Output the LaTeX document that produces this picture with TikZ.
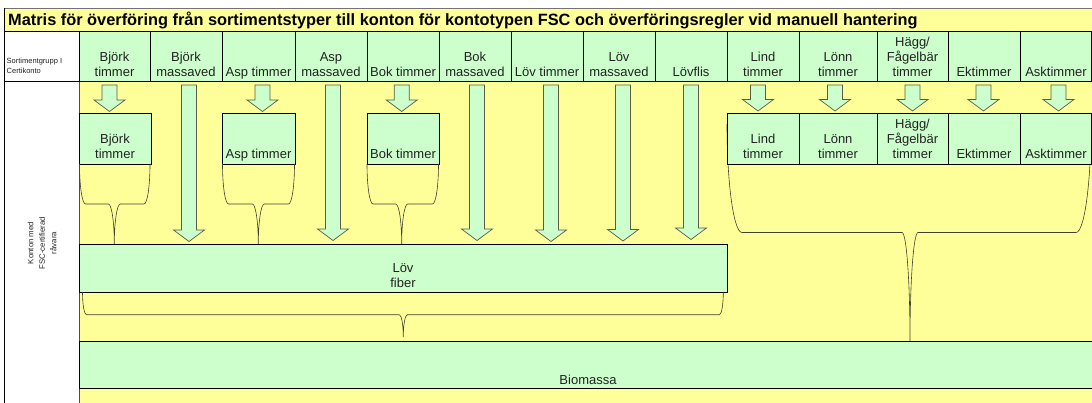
\documentclass[tikz,border=0pt]{standalone}
\usepackage{fontspec}
\setmainfont{Liberation Sans}
\definecolor{yel}{HTML}{FFFF99}
\definecolor{grn}{HTML}{CCFFCC}
\definecolor{arrline}{HTML}{5C5C45}
\definecolor{brc}{HTML}{404035}
\definecolor{txt}{HTML}{222222}
\tikzset{
  cellbox/.style={draw=black, fill=grn, line width=0.8pt, anchor=north west, inner sep=0pt, outer sep=0pt},
  lbl/.style={anchor=base, inner sep=0pt, font=\fontsize{13}{15}\selectfont, text=txt},
  arr/.style={fill=grn, draw=arrline, line width=0.7pt, line join=miter},
  curly/.style={draw=brc, line width=0.6pt},
  rule/.style={draw=black, line width=0.8pt},
}
\newcommand\tlab[1]{\begin{tabular}[b]{@{}c@{}}#1\end{tabular}}
\newcommand\blockarrow[3]{%
  \filldraw[arr] ({#1-7.5},#2) -- ({#1+7.5},#2) -- ({#1+7.5},{#3-11.5}) -- ({#1+15.5},{#3-11.5})
    -- (#1,#3) -- ({#1-15.5},{#3-11.5}) -- ({#1-7.5},{#3-11.5}) -- cycle;}
\newcommand\curlybrace[7]{%
  \pgfmathsetmacro\bym{(#4+#5)/2}%
  \pgfmathsetmacro\bdy{(#5-#4)/2}%
  \draw[curly] (#1,#4) .. controls (#1,{#4+0.5523*\bdy}) and ({#1+0.4477*#6},\bym) .. ({#1+#6},\bym)
    -- ({#3-#7},\bym) .. controls ({#3-0.4477*#7},\bym) and (#3,{#5-0.5523*\bdy}) .. (#3,#5)
    .. controls (#3,{#5-0.5523*\bdy}) and ({#3+0.4477*#7},\bym) .. ({#3+#7},\bym)
    -- ({#2-#6},\bym) .. controls ({#2-0.4477*#6},\bym) and (#2,{#4+0.5523*\bdy}) .. (#2,#4);}
\begin{document}
\begin{tikzpicture}[x=1pt, y=-1pt]
\useasboundingbox (0,0) rectangle (1092,403);
\fill[white] (0,0) rectangle (1092,403);
% title bar
\fill[yel] (4,8) rectangle (1092,31);
\fill[yel] (79,81) rectangle (1092,403);
\draw[draw=black!55, line width=0.8pt] (4,8) -- (1092,8);
\draw[rule] (4,8) -- (4,403);
\draw[rule] (4,31) -- (1092,31);
\draw[rule] (4,81) -- (1092,81);
\draw[draw=black!70, line width=0.8pt] (79,31) -- (79,403);
\node[anchor=base west, inner sep=0pt, font=\bfseries\fontsize{16.35}{18}\selectfont] (title) at (8,26)
  {Matris för överföring från sortimentstyper till konton för kontotypen FSC och överföringsregler vid manuell hantering};
% left column texts
\node[anchor=base west, inner sep=0pt, font=\fontsize{7.5}{10}\selectfont, text=txt] (sg) at (6.5,73.5)
  {\begin{tabular}[b]{@{}l@{}}Sortimentgrupp I\\Certikonto\end{tabular}};
\node[rotate=90, align=center, inner sep=0pt, font=\fontsize{7.8}{11.5}\selectfont, text=txt] (konto) at (42,243)
  {Konton med\\FSC-certifierad\\råvara};
% header cells
\node[cellbox, minimum width=71, minimum height=50] (h1) at (79,31) {};
\node[cellbox, minimum width=72, minimum height=50] (h2) at (150,31) {};
\node[cellbox, minimum width=73, minimum height=50] (h3) at (222,31) {};
\node[cellbox, minimum width=72, minimum height=50] (h4) at (295,31) {};
\node[cellbox, minimum width=72, minimum height=50] (h5) at (367,31) {};
\node[cellbox, minimum width=72, minimum height=50] (h6) at (439,31) {};
\node[cellbox, minimum width=72, minimum height=50] (h7) at (511,31) {};
\node[cellbox, minimum width=72, minimum height=50] (h8) at (583,31) {};
\node[cellbox, minimum width=72, minimum height=50] (h9) at (655,31) {};
\node[cellbox, minimum width=72, minimum height=50] (h10) at (727,31) {};
\node[cellbox, minimum width=78, minimum height=50] (h11) at (799,31) {};
\node[cellbox, minimum width=71, minimum height=50] (h12) at (877,31) {};
\node[cellbox, minimum width=72, minimum height=50] (h13) at (948,31) {};
\node[cellbox, minimum width=71.5, minimum height=50] (h14) at (1020,31) {};
\node[lbl] (th1) at (114.5,76.5) {\tlab{Björk\\timmer}};
\node[lbl] (th2) at (186,76.5) {\tlab{Björk\\massaved}};
\node[lbl] (th3) at (258.5,76.5) {\tlab{Asp timmer}};
\node[lbl] (th4) at (331,76.5) {\tlab{Asp\\massaved}};
\node[lbl] (th5) at (403,76.5) {\tlab{Bok timmer}};
\node[lbl] (th6) at (475,76.5) {\tlab{Bok\\massaved}};
\node[lbl] (th7) at (547,76.5) {\tlab{Löv timmer}};
\node[lbl] (th8) at (619,76.5) {\tlab{Löv\\massaved}};
\node[lbl] (th9) at (691,76.5) {\tlab{Lövflis}};
\node[lbl] (th10) at (763,76.5) {\tlab{Lind\\timmer}};
\node[lbl] (th11) at (838,76.5) {\tlab{Lönn\\timmer}};
\node[lbl] (th12) at (912.5,76.5) {\tlab{Hägg/\\Fågelbär\\timmer}};
\node[lbl] (th13) at (984,76.5) {\tlab{Ektimmer}};
\node[lbl] (th14) at (1056,76.5) {\tlab{Asktimmer}};
% big right brace (behind boxes)
\curlybrace{727}{1091}{910}{124}{341}{15}{8}
% second row boxes
\node[cellbox, minimum width=72, minimum height=51] (b1) at (79,113) {};
\node[cellbox, minimum width=73, minimum height=51] (b3) at (222,113) {};
\node[cellbox, minimum width=72, minimum height=51] (b5) at (367,113) {};
\node[cellbox, minimum width=72, minimum height=51] (b10) at (727,113) {};
\node[cellbox, minimum width=78, minimum height=51] (b11) at (799,113) {};
\node[cellbox, minimum width=71, minimum height=51] (b12) at (877,113) {};
\node[cellbox, minimum width=72, minimum height=51] (b13) at (948,113) {};
\node[cellbox, minimum width=71.5, minimum height=51] (b14) at (1020,113) {};
\node[lbl] (tb1) at (115,159) {\tlab{Björk\\timmer}};
\node[lbl] (tb3) at (258.5,159) {\tlab{Asp timmer}};
\node[lbl] (tb5) at (403,159) {\tlab{Bok timmer}};
\node[lbl] (tb10) at (763,159) {\tlab{Lind\\timmer}};
\node[lbl] (tb11) at (838,159) {\tlab{Lönn\\timmer}};
\node[lbl] (tb12) at (912.5,159) {\tlab{Hägg/\\Fågelbär\\timmer}};
\node[lbl] (tb13) at (984,159) {\tlab{Ektimmer}};
\node[lbl] (tb14) at (1056,159) {\tlab{Asktimmer}};
% Löv fiber and Biomassa
\node[cellbox, minimum width=648, minimum height=48] (lf) at (79,244) {};
\node[lbl] (tlf) at (403,287.5) {\tlab{Löv\\fiber}};
\node[cellbox, minimum width=1013, minimum height=47] (bio) at (79,341) {};
\node[lbl] (tbio) at (588,384.5) {Biomassa};
% short arrows
\blockarrow{109.5}{85}{111.5}
\blockarrow{262.5}{85}{111.5}
\blockarrow{401.7}{85}{111.5}
\blockarrow{758}{85}{111}
\blockarrow{835}{85}{111}
\blockarrow{912.5}{85}{111}
\blockarrow{983.5}{85}{111}
\blockarrow{1058.5}{85}{111}
% long arrows
\blockarrow{189}{85}{241.5}
\blockarrow{333}{85}{240.5}
\blockarrow{477}{85}{240.5}
\blockarrow{551}{85}{241.5}
\blockarrow{623}{85}{241}
\blockarrow{691}{85}{239.5}
% small braces
\curlybrace{79.5}{150}{114.3}{164}{244}{6}{6}
\curlybrace{222.5}{294.5}{258.3}{164}{244}{6}{6}
\curlybrace{367}{438.5}{401.7}{164}{244}{6}{6}
% lower brace
\curlybrace{82.5}{723.3}{403.3}{292.5}{337}{4}{4}
\end{tikzpicture}
\end{document}
